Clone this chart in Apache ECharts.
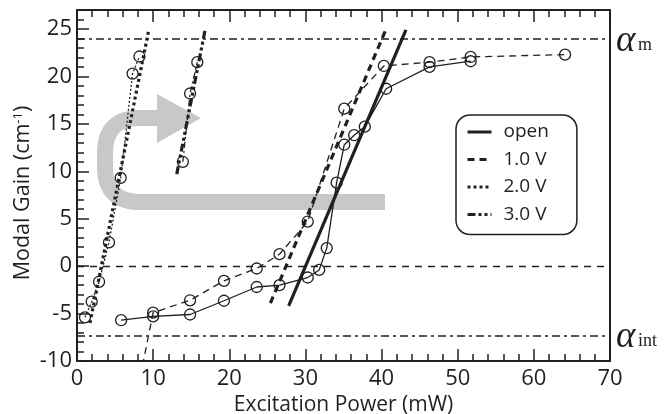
<!DOCTYPE html>
<html>
<head>
<meta charset="utf-8">
<script src="https://cdn.jsdelivr.net/npm/echarts@6/dist/echarts.min.js"></script>
<style>html,body{margin:0;padding:0;background:#fff}#c{width:669px;height:414px}</style>
</head>
<body>
<div id="c"></div>
<script>
// ---- data ----
const xTicks = [0, 10, 20, 30, 40, 50, 60, 70];
const yTicks = [-10, -5, 0, 5, 10, 15, 20, 25];

const openPower = [5.8, 10.0, 14.85, 19.3, 23.6, 26.6, 30.3, 31.8, 32.8, 34.1, 35.1, 36.4, 37.8, 40.6, 46.3, 51.7];
const openGain  = [-5.7, -5.3, -5.1, -3.65, -2.2, -2.0, -1.2, -0.4, 1.9, 8.8, 12.8, 13.8, 14.7, 18.7, 21.0, 21.6];

const v1Power = [8.6, 10.0, 14.85, 19.3, 23.6, 26.6, 30.3, 35.1, 40.3, 46.3, 51.7, 64.1];
const v1Gain  = [-10.5, -4.9, -3.6, -1.55, -0.25, 1.26, 4.7, 16.6, 21.1, 21.5, 22.05, 22.3];

const v2Power = [1.05, 1.93, 2.9, 4.2, 5.74, 7.3, 8.2];
const v2Gain  = [-5.4, -3.75, -1.65, 2.5, 9.3, 20.3, 22.1];

const v3Power = [13.9, 14.85, 15.8];
const v3Gain  = [11.0, 18.2, 21.5];

// linear fits (end points)
const openFitPower = [27.8, 43.2];
const openFitGain  = [-4.2, 24.9];
const v1FitPower = [25.4, 40.7];
const v1FitGain  = [-3.9, 25.2];
const v2FitPower = [1.7, 9.4];
const v2FitGain  = [-6.0, 24.8];
const v3FitPower = [13.1, 16.8];
const v3FitGain  = [9.7, 24.8];

const alphaM = 24.0;
const alphaInt = -7.3;

// ---- chart ----
const C = '#231f20';
const G = '#c8c8c8';
const F = '"Open Sans", "Noto Sans", sans-serif';
const SERIF = '"Liberation Serif", "DejaVu Serif", serif';
const zip = (a, b) => a.map((v, i) => [v, b[i]]);

const chart = echarts.init(document.getElementById('c'), null, {renderer: 'canvas'});

function dataSeries(name, px, py, type, hideFirst) {
  const d = zip(px, py).map((p, i) => (hideFirst && i === 0) ? {value: p, symbol: 'none'} : p);
  return {
    name: name, type: 'line', data: d, z: 3,
    symbol: 'circle', symbolSize: 11,
    itemStyle: {color: 'rgba(0,0,0,0)', borderColor: C, borderWidth: 1.3},
    lineStyle: {color: C, width: 1.3, type: type},
    emphasis: {disabled: true}
  };
}
function fitSeries(name, px, py, type) {
  return {
    name: name, type: 'line', data: zip(px, py), z: 4,
    symbol: 'none',
    lineStyle: {color: C, width: 3.2, type: type, cap: 'butt'},
    itemStyle: {color: C},
    emphasis: {disabled: true}
  };
}

const axisCommonX = {
  type: 'value', min: 0, max: 70, interval: 10,
  axisLine: {show: true, onZero: false, lineStyle: {color: C, width: 2}},
  axisTick: {show: true, inside: true, length: 12, lineStyle: {color: C, width: 1.5}},
  minorTick: {show: true, splitNumber: 5, length: 7, lineStyle: {color: C, width: 1.5}},
  splitLine: {show: false}
};

const arrowStroke = {stroke: G, lineWidth: 16, fill: 'none', lineCap: 'butt'};

const option = {
  animation: false,
  backgroundColor: '#fff',
  grid: {left: 77, right: 59, top: 10, bottom: 53, outerBoundsMode: 'none', containLabel: false},
  legend: {
    orient: 'vertical', left: 456, top: 115,
    data: ['open', '1.0 V', '2.0 V', '3.0 V'],
    itemWidth: 24, itemHeight: 14, itemGap: 7.5,
    padding: [7, 28, 10, 10],
    borderColor: C, borderWidth: 1.5, borderRadius: 14,
    itemStyle: {opacity: 0, borderWidth: 0},
    lineStyle: {width: 3},
    textStyle: {fontSize: 19, color: C, fontFamily: F, padding: [0, 0, 0, 7], lineHeight: 20},
    selectedMode: false
  },
  xAxis: [
    Object.assign({}, axisCommonX, {
      position: 'bottom',
      axisLabel: {fontSize: 22, color: C, fontFamily: F, margin: 7,
        formatter: v => xTicks.includes(v) ? String(v) : ''},
      name: 'Excitation Power (mW)', nameLocation: 'middle', nameGap: 31,
      nameTextStyle: {fontSize: 21, color: C, fontFamily: F}
    }),
    Object.assign({}, axisCommonX, {
      position: 'top', axisLabel: {show: false}
    })
  ],
  yAxis: [
    {
      type: 'value', min: -10, max: 27, interval: 5, position: 'left',
      axisLine: {show: true, onZero: false, lineStyle: {color: C, width: 2}},
      axisTick: {show: true, inside: true, length: 12, lineStyle: {color: C, width: 1.5}},
      minorTick: {show: true, splitNumber: 5, length: 7, lineStyle: {color: C, width: 1.5}},
      splitLine: {show: false},
      axisLabel: {fontSize: 22, color: C, fontFamily: F, margin: 5, showMaxLabel: false,
        formatter: v => yTicks.includes(v) ? String(v) : ''}
    },
    {
      type: 'value', min: -10, max: 27, position: 'right',
      axisLine: {show: true, onZero: false, lineStyle: {color: C, width: 2}},
      axisTick: {show: false}, axisLabel: {show: false}, splitLine: {show: false}
    }
  ],
  series: [
    {
      name: 'ref', type: 'line', data: [], z: 2, silent: true,
      markLine: {
        silent: true, symbol: 'none', label: {show: false},
        data: [
          {yAxis: alphaM, lineStyle: {color: C, width: 1.5, type: [8, 4, 3, 4]}},
          {yAxis: alphaInt, lineStyle: {color: C, width: 1.5, type: [8, 4, 3, 4]}},
          {yAxis: 0, lineStyle: {color: C, width: 1.3, type: [7, 6]}}
        ]
      }
    },
    dataSeries('open pts', openPower, openGain, 'solid', false),
    dataSeries('1.0 V pts', v1Power, v1Gain, [7, 5], true),
    dataSeries('2.0 V pts', v2Power, v2Gain, [2, 2], false),
    dataSeries('3.0 V pts', v3Power, v3Gain, [6, 3, 2, 3], false),
    fitSeries('open', openFitPower, openFitGain, 'solid'),
    fitSeries('1.0 V', v1FitPower, v1FitGain, [7, 5]),
    fitSeries('2.0 V', v2FitPower, v2FitGain, [3, 3]),
    fitSeries('3.0 V', v3FitPower, v3FitGain, [8, 3, 3, 3, 3, 3])
  ],
  graphic: [
    {type: 'line', z: 1, silent: true, shape: {x1: 385, y1: 202, x2: 139, y2: 202}, style: arrowStroke},
    {type: 'bezierCurve', z: 1, silent: true, shape: {x1: 140, y1: 202, cpx1: 105, cpy1: 202, x2: 105, y2: 167}, style: arrowStroke},
    {type: 'line', z: 1, silent: true, shape: {x1: 105, y1: 168, x2: 105, y2: 152}, style: arrowStroke},
    {type: 'bezierCurve', z: 1, silent: true, shape: {x1: 105, y1: 153, cpx1: 105, cpy1: 118, x2: 140, y2: 118}, style: arrowStroke},
    {type: 'line', z: 1, silent: true, shape: {x1: 139, y1: 118, x2: 158, y2: 118}, style: arrowStroke},
    {
      type: 'polygon', z: 1, silent: true,
      shape: {points: [[157, 94], [201, 118], [157, 143]]},
      style: {fill: G}
    },
    {
      type: 'text', x: 23, y: 193, rotation: Math.PI / 2, silent: true,
      style: {
        text: '{t|Modal Gain (cm}{s|-1}{t|)}', align: 'center', verticalAlign: 'middle',
        rich: {
          t: {fontSize: 21.5, fill: C, fontFamily: F},
          s: {fontSize: 13, fill: C, fontFamily: F, verticalAlign: 'top', padding: [0, 0, 8, 0]}
        }
      }
    },
    {
      type: 'text', left: 616, top: 23, silent: true,
      style: {text: 'α', font: 'italic 37px ' + SERIF, fill: C}
    },
    {
      type: 'text', left: 638, top: 36, silent: true,
      style: {text: 'm', font: '18px ' + SERIF, fill: C}
    },
    {
      type: 'text', left: 616, top: 319, silent: true,
      style: {text: 'α', font: 'italic 37px ' + SERIF, fill: C}
    },
    {
      type: 'text', left: 638, top: 332, silent: true,
      style: {text: 'int', font: '18px ' + SERIF, fill: C}
    }
  ]
};
chart.setOption(option);
</script>
</body>
</html>
